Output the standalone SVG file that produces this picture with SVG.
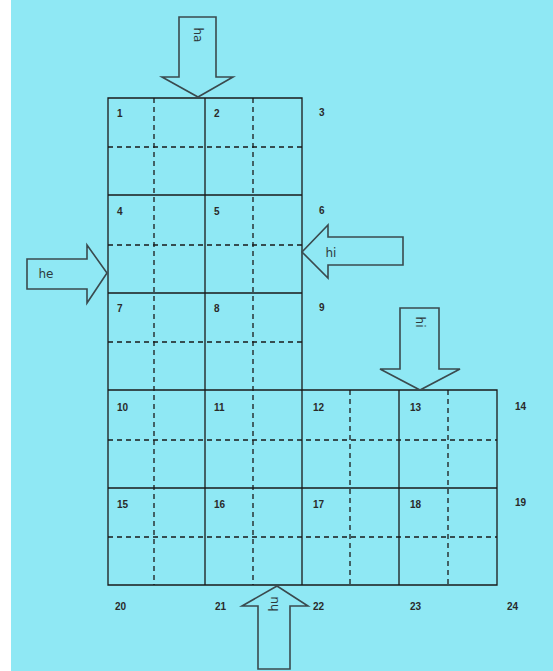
<svg xmlns="http://www.w3.org/2000/svg" width="553" height="671" viewBox="0 0 553 671">
<style>
.grid{fill:none;stroke:#1a1a1a;stroke-width:1.3}
.dash{fill:none;stroke:#1a1a1a;stroke-width:1.3;stroke-dasharray:5 4}
.arr{fill:#8fe8f4;stroke:#3a4a4e;stroke-width:1.6;stroke-linejoin:miter}
.num{font-family:"Liberation Sans",Arial,sans-serif;font-size:10px;font-weight:bold;fill:#2a2a2a}
.lbl{font-family:"DejaVu Sans","Liberation Sans",sans-serif;font-size:12px;fill:#2e3a3d}
</style>
<rect x="0" y="0" width="553" height="671" fill="#ffffff"/>
<rect x="11" y="0" width="542" height="671" fill="#8fe8f4"/>
<g id="grid">
<path class="grid" d="M108,98 H302 V390 H497 V585 H108 Z"/>
<path class="grid" d="M205,98 V585 M108,195 H302 M108,293 H302 M108,390 H302 M399,390 V585 M302,390 V585 M108,488 H497"/>
<path class="dash" d="M154,98 V585 M253,98 V585 M350,390 V585 M448,390 V585 M108,147 H302 M108,245 H302 M108,342 H302 M108,440 H497 M108,537 H497"/>
</g>
<g id="numbers">
<text class="num" x="117" y="117">1</text>
<text class="num" x="214" y="117">2</text>
<text class="num" x="319" y="116">3</text>
<text class="num" x="117" y="215">4</text>
<text class="num" x="214" y="215">5</text>
<text class="num" x="319" y="214">6</text>
<text class="num" x="117" y="312">7</text>
<text class="num" x="214" y="312">8</text>
<text class="num" x="319" y="311">9</text>
<text class="num" x="117" y="411">10</text>
<text class="num" x="214" y="411">11</text>
<text class="num" x="313" y="411">12</text>
<text class="num" x="410" y="411">13</text>
<text class="num" x="515" y="410">14</text>
<text class="num" x="117" y="508">15</text>
<text class="num" x="214" y="508">16</text>
<text class="num" x="313" y="508">17</text>
<text class="num" x="410" y="508">18</text>
<text class="num" x="515" y="506">19</text>
<text class="num" x="115" y="610">20</text>
<text class="num" x="215" y="610">21</text>
<text class="num" x="313" y="610">22</text>
<text class="num" x="410" y="610">23</text>
<text class="num" x="507" y="610">24</text>
</g>
<g id="arrow-top">
<path class="arr" d="M179,17 H216 V77 H233 L198,97 L162,77 H179 Z"/>
<text class="lbl" transform="translate(194,35) rotate(90)" text-anchor="middle">ha</text>
</g>
<g id="arrow-left">
<path class="arr" d="M27,259 H87 V245 L107,273 L87,303 V289 H27 Z"/>
<text class="lbl" x="46" y="278" text-anchor="middle">he</text>
</g>
<g id="arrow-right">
<path class="arr" d="M403,237 H328 V225 L302,252 L328,278 V265 H403 Z"/>
<text class="lbl" x="331" y="257" text-anchor="middle">hi</text>
</g>
<g id="arrow-topright">
<path class="arr" d="M400,308 H439 V369 H460 L420,390 L380,369 H400 Z"/>
<text class="lbl" transform="translate(416,322) rotate(90)" text-anchor="middle">hi</text>
</g>
<g id="arrow-bottom">
<path class="arr" d="M258,669 H290 V606 H308 L277,586 L242,606 H258 Z"/>
<text class="lbl" transform="translate(278,604) rotate(-90)" text-anchor="middle">hu</text>
</g>
</svg>
